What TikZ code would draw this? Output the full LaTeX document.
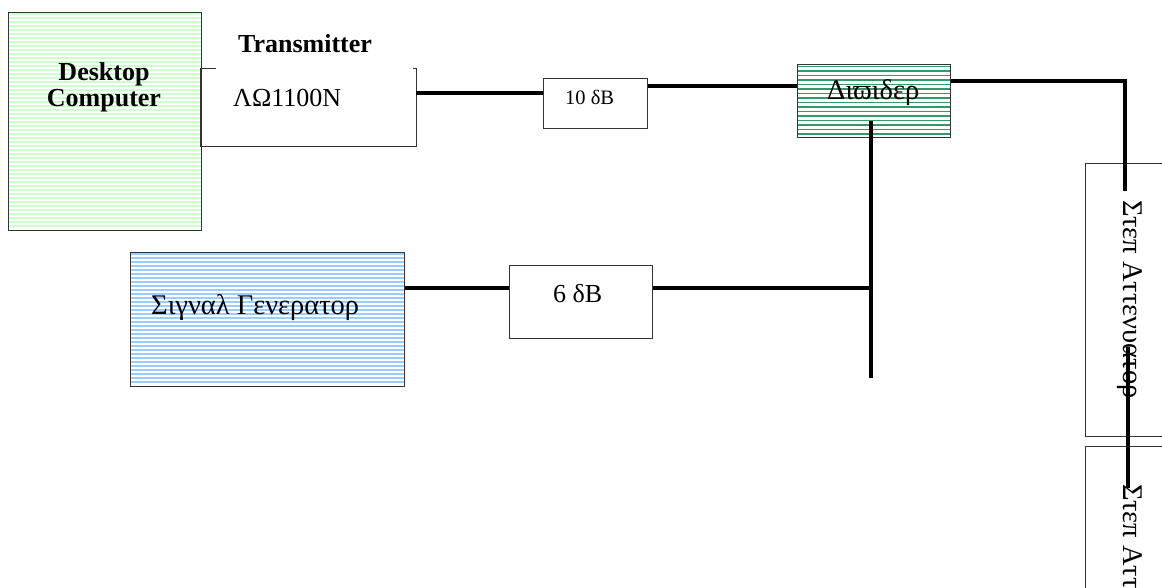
\documentclass[tikz,border=0pt]{standalone}
\usepackage{fontspec}
\setmainfont{Liberation Serif}
\definecolor{pcgreen}{HTML}{CCFFCC}
\definecolor{genblue}{HTML}{99CCFF}
\definecolor{divgreen}{HTML}{339966}
\definecolor{edge}{HTML}{333333}
\begin{document}
\begin{tikzpicture}[x=1pt,y=-1pt,
  box/.style={draw=edge,line width=1pt,inner sep=0pt,anchor=north west},
  hold/.style={inner sep=0pt,anchor=north west},
  wire/.style={line width=4pt,black},
  lbl/.style={inner sep=0pt,anchor=base west,font=\fontsize{26}{26}\selectfont},
  glbl/.style={inner sep=0pt,anchor=base west,font=\fontsize{28.5}{28.5}\selectfont},
  blbl/.style={inner sep=0pt,anchor=base,font=\bfseries\fontsize{26}{26}\selectfont},
  stripe/.style={line width=2pt}
]
\useasboundingbox (0,0) rectangle (1162,588);
\clip (0,0) rectangle (1162,588);

% Desktop computer
\foreach \yy in {14,18,...,228} \draw[stripe,pcgreen] (8.5,\yy) -- (200.5,\yy);
\node[box,minimum width=193pt,minimum height=218pt] (pc) at (8,12) {};
\node[blbl] (pct1) at (104,81) {Desktop};
\node[blbl] (pct2) at (104,107) {Computer};

% Transmitter
\node[hold,minimum width=216pt,minimum height=77pt] (tx) at (200,69) {};
\draw[edge,line width=1pt] (tx.north west) -- ++(16,0);
\draw[edge,line width=1pt] ([xshift=-3pt]tx.north east) -- (tx.north east) -- (tx.south east) -- (tx.south west) -- (tx.north west);
\node[blbl] (txt) at (305,53) {Transmitter};
\node[lbl] (txm) at (233,107) {ΛΩ1100N};

% 10 dB
\node[box,minimum width=104pt,minimum height=50pt] (att10) at (543,78) {};
\node[lbl,font=\fontsize{20.5}{20.5}\selectfont] (att10t) at (565,105) {10 δB};

% Divider
\foreach \yy in {66.5,71,...,136} \draw[line width=1.6pt,divgreen] (797.5,\yy) -- (949.5,\yy);
\node[box,minimum width=153pt,minimum height=73pt] (div) at (797,64) {};
\node[glbl] (divt) at (827,100) {Διϖιδερ};

% Signal generator
\foreach \yy in {254,258,...,384} \draw[stripe,genblue] (130.5,\yy) -- (403.5,\yy);
\node[box,minimum width=274pt,minimum height=134pt] (sig) at (130,252) {};
\node[glbl] (sigt) at (151,314) {Σιγναλ Γενερατορ};

% 6 dB
\node[box,minimum width=143pt,minimum height=73pt] (att6) at (509,265) {};
\node[lbl] (att6t) at (553,302) {6 δB};

% Step attenuators
\node[box,minimum width=120pt,minimum height=273pt] (sa1) at (1085,163) {};
\node[box,minimum width=120pt,minimum height=200pt] (sa2) at (1085,446) {};
\node[glbl,rotate=-90] (sa1t) at (1123,200) {Στεπ Αττενυατορ};
\node[glbl,rotate=-90] (sa2t) at (1123,484) {Στεπ Αττενυατορ};

% free ends
\coordinate (joinTop) at (871,121);
\coordinate (joinBot) at (871,378);
\coordinate (corner) at (1125,81);
\coordinate (saIn) at (1125,191);
\coordinate (link1) at (1128,347);
\coordinate (link2) at (1128,488);

% wires
\draw[wire] (tx.east |- 0,93) -- (att10.west |- 0,93);
\draw[wire] (att10.east |- 0,86) -- (div.west |- 0,86);
\draw[wire] (div.east |- corner) -- (corner) -- (saIn);
\draw[wire] (joinTop) -- (joinBot);
\draw[wire] (sig.east |- 0,288) -- (att6.west |- 0,288);
\draw[wire] (att6.east |- 0,288) -- (joinTop |- 0,288);
\draw[wire] (link1) -- (link2);
\end{tikzpicture}
\end{document}
